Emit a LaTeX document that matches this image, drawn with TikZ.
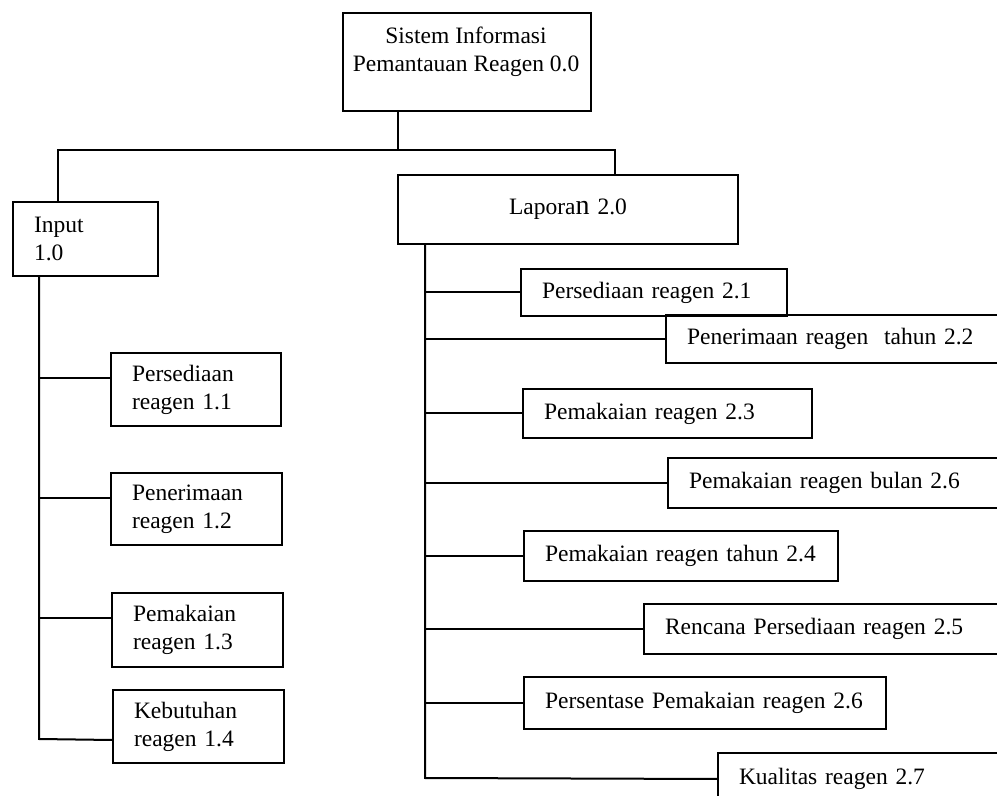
\documentclass[tikz,border=0pt]{standalone}
\usepackage{fontspec}
\setmainfont{Liberation Serif}
\newcommand\fsz{\fontsize{11.75}{14}\selectfont}
\tikzset{
  box/.style={draw, line width=1pt, rectangle, anchor=north west, inner xsep=10.5pt, inner ysep=0pt, align=left, font=\fsz},
  conn/.style={line width=1pt}
}
\begin{document}
\begin{tikzpicture}[x=0.5pt,y=-0.5pt]
\useasboundingbox (0,0) rectangle (997,796);
\begin{scope}
\clip (0,0) rectangle (997,796);
\fill[white] (0,0) rectangle (997,796);
% top
\node[draw, line width=1pt, minimum width=124pt, minimum height=49pt, anchor=north west, inner sep=0pt] (top) at (342,12) {};
\node[align=center, font=\fsz, inner sep=0pt] (toplbl) at (466,52) {Sistem Informasi\\Pemantauan Reagen 0.0};
% level 1
\node[box, text width=51.5pt, minimum height=37pt] (inp) at (12,201) {Input\\1.0};
\node[box, align=center, text width=149pt, minimum height=34.5pt] (lap) at (397,174) {Lapora{\fontsize{14}{14}\selectfont n} 2.0};
% left children
\node[box, text width=64pt, minimum height=36.5pt] (n11) at (110,352) {Persediaan\\reagen 1.1};
\node[box, text width=64.5pt, minimum height=36pt] (n12) at (110,472) {Penerimaan\\reagen 1.2};
\node[box, text width=64.5pt, minimum height=37pt] (n13) at (111,592) {Pemakaian\\reagen 1.3};
\node[box, text width=64.5pt, minimum height=36.5pt] (n14) at (112,689) {Kebutuhan\\reagen 1.4};
% right children
\node[box, text width=112pt, minimum height=23.5pt] (n21) at (520,268) {Persediaan reagen 2.1};
\node[box, text width=179pt, minimum height=24pt] (n22) at (665,314) {Penerimaan reagen\ \ tahun 2.2};
\node[box, text width=123.5pt, minimum height=24.5pt] (n23) at (522,388) {Pemakaian reagen 2.3};
\node[box, text width=179pt, minimum height=25pt] (n26b) at (667,457) {Pemakaian reagen bulan 2.6};
\node[box, text width=136pt, minimum height=25pt] (n24) at (523,530) {Pemakaian reagen tahun 2.4};
\node[box, text width=189pt, minimum height=25pt] (n25) at (643,603) {Rencana Persediaan reagen 2.5};
\node[box, text width=160pt, minimum height=26pt] (n26) at (523,676) {Persentase Pemakaian reagen 2.6};
\node[box, text width=154pt, minimum height=26pt] (n27) at (717,752) {Kualitas reagen 2.7};
% top connectors
\coordinate (hs) at (398,150);
\coordinate (hl) at (58,150);
\coordinate (hr) at (615,150);
\draw[conn] (top.south -| hs) -- (hs);
\draw[conn] (inp.north -| hl) -- (hl) -- (hr) -- (lap.north -| hr);
% left trunk
\coordinate (c11) at ([yshift=5.75pt]n11.west);
\coordinate (c12) at ([yshift=5.5pt]n12.west);
\coordinate (c13) at ([yshift=6pt]n13.west);
\coordinate (c14) at ([yshift=-6.75pt]n14.west);
\coordinate (lt) at (39,739);
\draw[conn] (inp.south -| lt) -- (lt) -- (c14);
\draw[conn] (c11 -| lt) -- (c11);
\draw[conn] (c12 -| lt) -- (c12);
\draw[conn] (c13 -| lt) -- (c13);
% right trunk
\coordinate (rt) at (425,778);
\draw[conn] (lap.south -| rt) -- (rt) -- (n27.west);
\foreach \n in {n21,n22,n23,n26b,n24,n25,n26}
  \draw[conn] (\n.west -| rt) -- (\n.west);
\end{scope}
\end{tikzpicture}
\end{document}
